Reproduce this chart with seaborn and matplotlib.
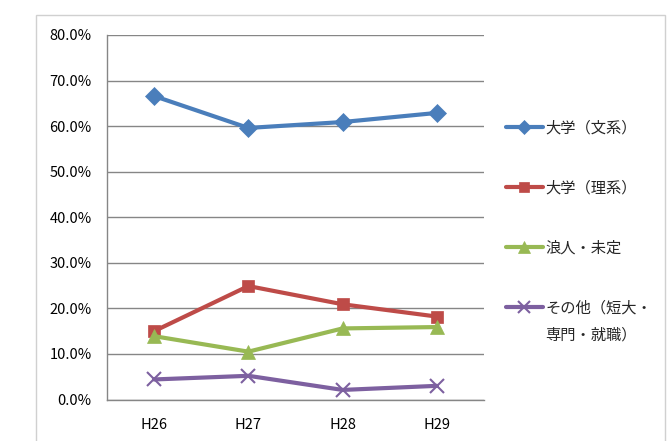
import matplotlib
matplotlib.use("Agg")
import matplotlib.pyplot as plt
from matplotlib.patches import Rectangle
from matplotlib.ticker import FuncFormatter, MultipleLocator
import seaborn as sns
import pandas as pd

years = ["H26", "H27", "H28", "H29"]
series_names = ["大学（文系）", "大学（理系）", "浪人・未定", "その他（短大・専門・就職）"]
legend_labels = ["大学（文系）", "大学（理系）", "浪人・未定", "その他（短大・"]
legend_extra_line = "専門・就職）"
bunkei = [66.6, 59.6, 60.9, 62.9]
rikei = [15.0, 24.9, 20.9, 18.2]
ronin = [13.9, 10.5, 15.6, 15.9]
sonota = [4.4, 5.2, 2.1, 3.0]

colors = ["#4a7ebb", "#be4b48", "#98b954", "#7d60a0"]
markers = ["D", "s", "^", "x"]
marker_sizes = [9, 9, 10, 10]

rows = []
for name, vals in zip(series_names, [bunkei, rikei, ronin, sonota]):
    for yr, v in zip(years, vals):
        rows.append({"年度": yr, "割合": v, "区分": name})
df = pd.DataFrame(rows)

sns.set_theme(style="white")
plt.rcParams["font.family"] = ["Noto Sans CJK JP", "DejaVu Sans"]

fig = plt.figure(figsize=(6.71, 4.41), dpi=100)
fig.patch.set_facecolor("white")

# outer chart frame
fig.patches.append(Rectangle((36 / 671, -0.05), (665 - 36) / 671, 1.05 - 15 / 441,
                             transform=fig.transFigure, fill=False,
                             edgecolor="#d0d0d0", linewidth=1.0, zorder=0))

ax = fig.add_axes([107 / 671, 1 - 399.5 / 441, (484 - 107) / 671, (399.5 - 35) / 441])

sns.lineplot(data=df, x="年度", y="割合", hue="区分", hue_order=series_names,
             palette=colors, linewidth=3.0, ax=ax, legend=False, sort=False)

for line, m, ms, c in zip(ax.get_lines(), markers, marker_sizes, colors):
    line.set_marker(m)
    line.set_markersize(ms)
    line.set_markerfacecolor(c)
    line.set_markeredgecolor(c)
    line.set_markeredgewidth(1.5 if m == "x" else 0.5)

ax.set_xlim(-0.5, 3.5)
ax.set_ylim(0, 80)
ax.yaxis.set_major_locator(MultipleLocator(10))
ax.yaxis.set_major_formatter(FuncFormatter(lambda v, _: f"{v:.1f}%"))
ax.set_xticks(range(len(years)))
ax.set_xticklabels(years)
ax.set_xticks([-0.5, 0.5, 1.5, 2.5, 3.5], minor=True)
ax.tick_params(axis="x", which="major", length=0, pad=13, labelsize=10.5, colors="black")
ax.tick_params(axis="x", which="minor", length=5, width=1, color="#868686", direction="out")
ax.tick_params(axis="y", length=5, width=1, color="#868686", direction="out",
               labelsize=10.5, colors="black", pad=6)
ax.set_xlabel("")
ax.set_ylabel("")

ax.grid(axis="y", color="#868686", linewidth=1.0)
ax.set_axisbelow(True)
for side in ["top", "right"]:
    ax.spines[side].set_visible(False)
for side in ["left", "bottom"]:
    ax.spines[side].set_color("#868686")
    ax.spines[side].set_linewidth(1.0)

handles = ax.get_lines()[:4]
leg = fig.legend(handles, legend_labels, loc="upper left",
                 bbox_to_anchor=(500 / 671, 1 - 113 / 441), frameon=False,
                 fontsize=11, handlelength=2.4, handletextpad=0.15,
                 labelspacing=2.83, borderaxespad=0, markerscale=0.8)

# continuation line of the last legend label, set under its first line
fig.canvas.draw()
bb = leg.get_texts()[-1].get_window_extent().transformed(fig.transFigure.inverted())
fig.text(bb.x0, bb.y0 - 27 / 441, legend_extra_line, fontsize=11,
         ha="left", va="bottom", color=leg.get_texts()[-1].get_color())

fig.savefig("out.png", dpi=100, facecolor="white")
